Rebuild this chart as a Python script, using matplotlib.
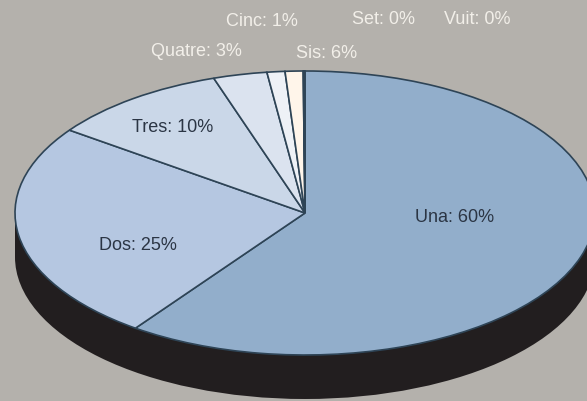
import matplotlib.pyplot as plt
from matplotlib.patches import Ellipse, Rectangle

# dades del gràfic
labels = ["Una", "Dos", "Tres", "Quatre", "Cinc", "Sis", "Set", "Vuit"]
shown_pct = ["60%", "25%", "10%", "3%", "1%", "6%", "0%", "0%"]
values = [60, 25, 10, 3, 1, 1, 0.05, 0.05]
colors = ["#92aecb", "#b5c7e1", "#cad7e8", "#dbe3ef", "#eef1f6",
          "#fff5ea", "#fbe9dc", "#f8dcd0"]

# posicions de les etiquetes (pixels) i color del text
label_px = [(455, 218), (138, 245), (173, 128), (196, 52),
            (262, 21), (327, 53), (383, 19), (477, 19)]
label_dark = [True, True, True, False, False, False, False, False]

W, H = 587, 401
cx, cy = 305, 213        # centre de l'el·lipse
rx, ry = 290, 142        # semieixos
depth = 44               # gruix del lateral

fig = plt.figure(figsize=(W / 100, H / 100), dpi=100)
fig.patch.set_facecolor("#b4b1ac")
ax = fig.add_axes([0, 0, 1, 1])

# lateral fosc
d = depth / ry
ax.add_patch(Ellipse((0, -d), 2, 2, facecolor="#221e1f", edgecolor="none", zorder=1))
ax.add_patch(Rectangle((-1, -d), 2, d, facecolor="#221e1f", edgecolor="none", zorder=1))

wedges, _ = ax.pie(values, colors=colors, startangle=90, counterclock=False,
                   radius=1, center=(0, 0),
                   wedgeprops=dict(edgecolor="#2e4456", linewidth=1.2))
for w in wedges:
    w.set_zorder(2)

ax.set_aspect("auto")
ax.set_xlim(-cx / rx, (W - cx) / rx)
ax.set_ylim((cy - H) / ry, cy / ry)
ax.axis("off")

for lab, pct, (px, py), dark in zip(labels, shown_pct, label_px, label_dark):
    fig.text(px / W, 1 - py / H, f"{lab}: {pct}", ha="center", va="center",
             fontsize=13, family="Liberation Sans",
             color="#2b3544" if dark else "#f2efe9", zorder=5)

fig.savefig("out.png", dpi=100, facecolor=fig.get_facecolor())
